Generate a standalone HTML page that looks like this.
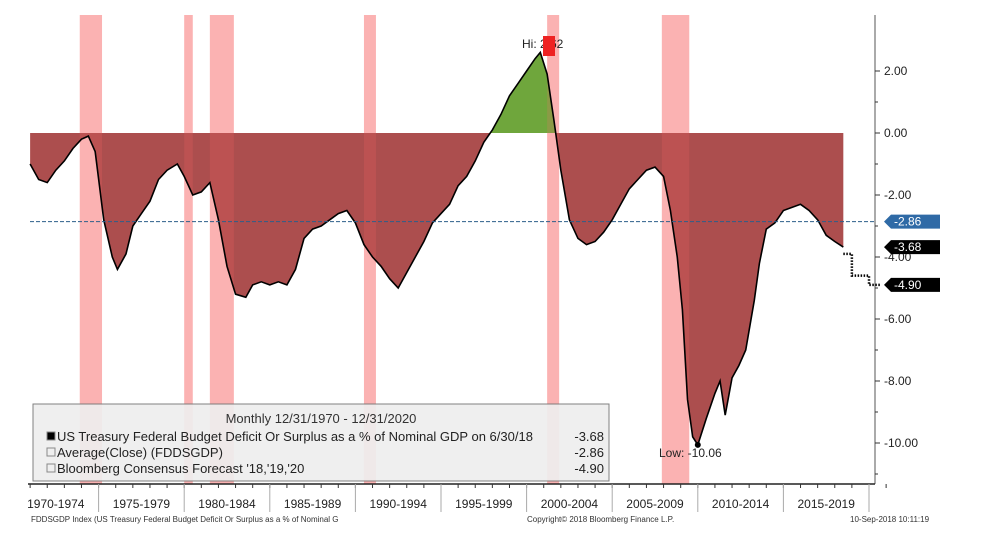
<!DOCTYPE html>
<html><head><meta charset="utf-8"><style>
body{margin:0;background:#fff;font-family:"Liberation Sans","DejaVu Sans",sans-serif;}
svg{display:block}
</style></head><body>
<svg id="chart" width="984" height="549" viewBox="0 0 984 549" font-family="Liberation Sans, DejaVu Sans, sans-serif"></svg>
<script>
const years=[1971,1971.5,1972,1972.5,1973,1973.5,1974,1974.4,1974.8,1975.3,1975.8,1976.1,1976.6,1977,1977.5,1978,1978.5,1979,1979.6,1980,1980.5,1981,1981.5,1982,1982.5,1983,1983.6,1984,1984.5,1985,1985.5,1986,1986.5,1987,1987.5,1988,1988.5,1989,1989.5,1990,1990.5,1991,1991.5,1992,1992.5,1993,1993.5,1994,1994.5,1995,1995.5,1996,1996.5,1997,1997.5,1998,1998.5,1999,1999.5,2000,2000.5,2000.8,2001.2,2001.6,2002,2002.5,2003,2003.5,2004,2004.5,2005,2005.5,2006,2006.5,2007,2007.5,2008,2008.4,2008.8,2009.1,2009.4,2009.7,2010,2010.5,2011,2011.3,2011.6,2012,2012.4,2012.8,2013.3,2013.6,2014,2014.5,2015,2015.5,2016,2016.5,2017,2017.5,2018,2018.5];
const values=[-1.0,-1.5,-1.6,-1.2,-0.9,-0.5,-0.2,-0.1,-0.6,-2.8,-4.0,-4.4,-3.9,-3.0,-2.6,-2.2,-1.5,-1.2,-1.0,-1.4,-2.0,-1.9,-1.6,-2.8,-4.3,-5.2,-5.3,-4.9,-4.8,-4.9,-4.8,-4.9,-4.4,-3.4,-3.1,-3.0,-2.8,-2.6,-2.5,-2.9,-3.6,-4.0,-4.3,-4.7,-5.0,-4.5,-4.0,-3.5,-2.9,-2.6,-2.3,-1.7,-1.4,-0.9,-0.3,0.1,0.6,1.2,1.6,2.0,2.4,2.6,1.9,0.4,-1.2,-2.8,-3.4,-3.6,-3.5,-3.2,-2.8,-2.3,-1.8,-1.5,-1.2,-1.1,-1.4,-2.5,-4.0,-5.7,-8.6,-9.8,-10.06,-9.2,-8.4,-8.0,-9.1,-7.9,-7.5,-7.0,-5.4,-4.2,-3.1,-2.9,-2.5,-2.4,-2.3,-2.5,-2.8,-3.3,-3.5,-3.68];
const fcYears=[2018.5,2019.5,2020.5];
const fcValues=[-3.9,-4.6,-4.9];
const recessions=[[1973.9,1975.2],[1980.0,1980.5],[1981.5,1982.9],[1990.5,1991.2],[2001.2,2001.9],[2007.9,2009.5]];
const yTicks=[2,0,-2,-4,-6,-8,-10];
const periods=['1970-1974','1975-1979','1980-1984','1985-1989','1990-1994','1995-1999','2000-2004','2005-2009','2010-2014','2015-2019'];
const avg=-2.86, last=-3.68, fcLast=-4.90;

const svg=document.getElementById('chart');
const NS='http://www.w3.org/2000/svg';
const X=y=>13+(y-1970)*17.12;
const Y=v=>133-v*31;
const plotTop=15, plotBottom=484;
function mk(t,a,p){const e=document.createElementNS(NS,t);for(const k in a)e.setAttribute(k,a[k]);(p||svg).appendChild(e);return e;}

recessions.forEach(r=>{
  const e=mk('rect',{x:X(r[0]),y:plotTop,width:X(r[1])-X(r[0]),height:plotBottom-plotTop,fill:'#fbc4c4'});
  
  
});
const n=Math.min(years.length,values.length);
let d='M'+X(years[0])+','+Y(0);
for(let i=0;i<n;i++)d+=' L'+X(years[i])+','+Y(values[i]);
d+=' L'+X(years[n-1])+','+Y(0)+' Z';
const defs=mk('defs',{});
mk('rect',{x:0,y:Y(0),width:984,height:500},mk('clipPath',{id:'neg'},defs));
mk('rect',{x:0,y:0,width:984,height:Y(0)},mk('clipPath',{id:'pos'},defs));
let a=mk('path',{d:d,fill:'#a84545',opacity:0.95,'clip-path':'url(#neg)'});

a=mk('path',{d:d,fill:'#6fa63c','clip-path':'url(#pos)'});

recessions.forEach(r=>{mk('rect',{x:X(r[0]),y:plotTop,width:X(r[1])-X(r[0]),height:plotBottom-plotTop,fill:'#ff7070',opacity:0.2});});
let ld='';for(let i=0;i<n;i++)ld+=(i?' L':'M')+X(years[i])+','+Y(values[i]);
a=mk('path',{d:ld,fill:'none',stroke:'#000','stroke-width':1.6});

let fd='M'+X(fcYears[0])+','+Y(fcValues[0]);
for(let i=1;i<fcYears.length;i++){fd+=' L'+X(fcYears[i]-0.5)+','+Y(fcValues[i-1])+' L'+X(fcYears[i]-0.5)+','+Y(fcValues[i]);}
fd+=' L'+X(fcYears[fcYears.length-1]+0.2)+','+Y(fcValues[fcValues.length-1]);
a=mk('path',{d:fd,fill:'none',stroke:'#000','stroke-width':2.5,'stroke-dasharray':'1.5,1.5'});

a=mk('line',{x1:30,x2:875,y1:Y(avg),y2:Y(avg),stroke:'#2d5f8a','stroke-width':1,'stroke-dasharray':'4,2'});

mk('line',{x1:875,x2:875,y1:15,y2:plotBottom,stroke:'#555'});
mk('line',{x1:28,x2:875,y1:plotBottom,y2:plotBottom,stroke:'#222','stroke-width':1.5});
yTicks.forEach(v=>{
  mk('line',{x1:875,x2:880,y1:Y(v),y2:Y(v),stroke:'#333'});
  mk('line',{x1:875,x2:878,y1:Y(v-1),y2:Y(v-1),stroke:'#333'});
  const t=mk('text',{x:884,y:Y(v)+4,'font-size':12,fill:'#222'});t.textContent=v.toFixed(2);
  
});
for(let yr=1971;yr<=2021;yr++){mk('line',{x1:X(yr),x2:X(yr),y1:plotBottom,y2:plotBottom+4,stroke:'#333'});}
periods.forEach((p,i)=>{
  const s=1970+5*i;
  mk('line',{x1:X(s+5),x2:X(s+5),y1:plotBottom,y2:plotBottom+28,stroke:'#aaa'});
  const t=mk('text',{x:X(s+2.5),y:508,'font-size':12,fill:'#222','text-anchor':'middle'});t.textContent=p;
  
});
function tag(v,col,txt,name){
  const y=Y(v);
  const g=mk('g',{});
  mk('path',{d:`M884,${y} L891,${y-7} L940,${y-7} L940,${y+7} L891,${y+7} Z`,fill:col},g);
  const t=mk('text',{x:894,y:y+4,'font-size':12,fill:'#fff'},g);t.textContent=txt;
}
tag(avg,'#2f6aa6',avg.toFixed(2),'average-tag');
tag(last,'#000',last.toFixed(2),'last-value-tag');
tag(fcLast,'#000',fcLast.toFixed(2),'forecast-tag');
let t=mk('text',{x:522,y:48,'font-size':12,fill:'#222'});t.textContent='Hi: 2.62';

mk('rect',{x:543,y:36,width:12,height:20,fill:'#e22'});
mk('circle',{cx:X(2010),cy:Y(-10.06),r:3,fill:'#000'});
t=mk('text',{x:659,y:457,'font-size':12,fill:'#222'});t.textContent='Low: -10.06';

const lg=mk('g',{});
mk('rect',{x:33,y:404,width:576,height:77,fill:'#eeeeee',opacity:0.92,stroke:'#777'},lg);
t=mk('text',{x:321,y:423,'font-size':13,fill:'#333','text-anchor':'middle'},lg);t.textContent='Monthly 12/31/1970 - 12/31/2020';
const rows=[['US Treasury Federal Budget Deficit Or Surplus as a % of Nominal GDP  on 6/30/18','-3.68','#000'],['Average(Close) (FDDSGDP)','-2.86','none'],["Bloomberg Consensus Forecast '18,'19,'20",'-4.90','none']];
rows.forEach((r,i)=>{
  const y=441+i*16;
  mk('rect',{x:47,y:y-9,width:8,height:8,fill:r[2],stroke:'#888'},lg);
  let tt=mk('text',{x:57,y:y,'font-size':13,fill:'#222'},lg);tt.textContent=r[0];
  
  tt=mk('text',{x:604,y:y,'font-size':13,fill:'#222','text-anchor':'end'},lg);tt.textContent=r[1];
});
t=mk('text',{x:31,y:522,'font-size':8,fill:'#333'});t.textContent='FDDSGDP Index (US Treasury Federal Budget Deficit Or Surplus as a % of Nominal G';

t=mk('text',{x:527,y:522,'font-size':8,fill:'#333'});t.textContent='Copyright© 2018 Bloomberg Finance L.P.';

t=mk('text',{x:850,y:522,'font-size':8,fill:'#333'});t.textContent='10-Sep-2018 10:11:19';

</script>
</body></html>
